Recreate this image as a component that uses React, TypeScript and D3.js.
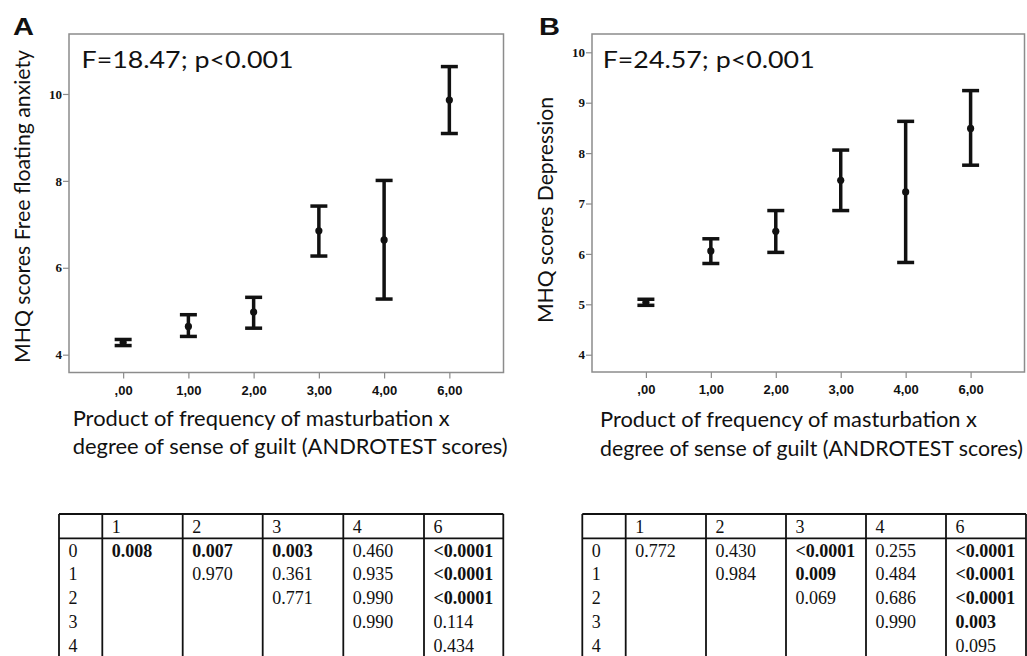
import React, { useRef, useEffect } from "react"
import * as d3 from "d3"

const chart_width = 1027
const chart_height = 656

// x categories (ANDROTEST product scores)
const categories = [",00", "1,00", "2,00", "3,00", "4,00", "6,00"]

// panel A: MHQ free floating anxiety, mean and 95% CI
const anxietyMean = [4.28, 4.65, 4.98, 6.85, 6.64, 9.86]
const anxietyLow = [4.21, 4.42, 4.61, 6.27, 5.28, 9.09]
const anxietyHigh = [4.35, 4.92, 5.32, 7.42, 8.01, 10.63]
const anxietyTicks = [4, 6, 8, 10]

// panel B: MHQ depression, mean and 95% CI
const depressionMean = [5.04, 6.06, 6.45, 7.46, 7.23, 8.49]
const depressionLow = [4.98, 5.81, 6.03, 6.86, 5.83, 7.76]
const depressionHigh = [5.1, 6.3, 6.86, 8.06, 8.63, 9.24]
const depressionTicks = [4, 5, 6, 7, 8, 9, 10]

// post hoc p values tables
const tableHeader = ["", "1", "2", "3", "4", "6"]
const rowLabels = ["0", "1", "2", "3", "4"]
const anxietyPvalues = [
  ["0.008", "0.007", "0.003", "0.460", "<0.0001"],
  ["", "0.970", "0.361", "0.935", "<0.0001"],
  ["", "", "0.771", "0.990", "<0.0001"],
  ["", "", "", "0.990", "0.114"],
  ["", "", "", "", "0.434"],
]
const depressionPvalues = [
  ["0.772", "0.430", "<0.0001", "0.255", "<0.0001"],
  ["", "0.984", "0.009", "0.484", "<0.0001"],
  ["", "", "0.069", "0.686", "<0.0001"],
  ["", "", "", "0.990", "0.003"],
  ["", "", "", "", "0.095"],
]

const sans = "Lato, 'Open Sans', sans-serif"
const serif = "'Liberation Serif', 'Times New Roman', serif"
const frameColor = "#8c8c8c"

const isSignificant = v => v.startsWith("<") || (v !== "" && parseFloat(v) < 0.05)

const drawPanel = (svg, p) => {
  const g = svg.append("g")

  const x = d3.scalePoint().domain(categories).range([p.x0, p.x1]).padding(0.83)
  const y = d3.scaleLinear().domain(p.domain).range([p.y1, p.y0])

  // y axis
  const yAxis = d3
    .axisLeft(y)
    .tickValues(p.ticks)
    .tickFormat(d3.format("d"))
    .tickSize(6)
    .tickPadding(1)
  const ya = g.append("g").attr("transform", "translate(" + p.x0 + ",0)").call(yAxis)
  ya.select(".domain").remove()
  ya.selectAll("line").attr("stroke", frameColor).attr("stroke-width", 1.2)
  ya.selectAll("text")
    .attr("font-family", serif)
    .attr("font-weight", "bold")
    .attr("font-size", 13)
    .attr("fill", "#111")

  // x axis
  const xAxis = d3.axisBottom(x).tickSize(6).tickPadding(7)
  const xa = g.append("g").attr("transform", "translate(0," + p.y1 + ")").call(xAxis)
  xa.select(".domain").remove()
  xa.selectAll("line").attr("stroke", frameColor).attr("stroke-width", 1.2)
  xa.selectAll("text")
    .attr("font-family", "'Liberation Sans', Arial, sans-serif")
    .attr("font-weight", "bold")
    .attr("font-size", 13)
    .attr("fill", "#111")

  // frame
  g.append("rect")
    .attr("x", p.x0)
    .attr("y", p.y0)
    .attr("width", p.x1 - p.x0)
    .attr("height", p.y1 - p.y0)
    .attr("fill", "none")
    .attr("stroke", frameColor)
    .attr("stroke-width", 1.5)

  // error bars
  const bars = g
    .selectAll(".bar")
    .data(categories.map((c, i) => ({ c, m: p.mean[i], lo: p.low[i], hi: p.high[i] })))
    .enter()
    .append("g")
    .attr("class", "bar")
  bars
    .append("line")
    .attr("x1", d => x(d.c))
    .attr("x2", d => x(d.c))
    .attr("y1", d => y(d.lo))
    .attr("y2", d => y(d.hi))
    .attr("stroke", "#111")
    .attr("stroke-width", 3.5)
  ;["lo", "hi"].forEach(k => {
    bars
      .append("line")
      .attr("x1", d => x(d.c) - 8.5)
      .attr("x2", d => x(d.c) + 8.5)
      .attr("y1", d => y(d[k]))
      .attr("y2", d => y(d[k]))
      .attr("stroke", "#111")
      .attr("stroke-width", 3.5)
  })
  bars
    .append("circle")
    .attr("cx", d => x(d.c))
    .attr("cy", d => y(d.m))
    .attr("r", 3.6)
    .attr("fill", "#111")

  // statistic
  g.append("text")
    .attr("x", p.x0 + (p.statDx || 12.5))
    .attr("y", 68)
    .attr("font-family", sans)
    .attr("font-size", 23)
    .attr("textLength", 212)
    .attr("lengthAdjust", "spacingAndGlyphs")
    .attr("fill", "#111")
    .text(p.stat)

  // panel letter
  g.append("text")
    .attr("x", p.letterX)
    .attr("y", 35)
    .attr("font-family", "'Liberation Sans', Arial, sans-serif")
    .attr("font-weight", "bold")
    .attr("font-size", 23)
    .attr("textLength", 21)
    .attr("lengthAdjust", "spacingAndGlyphs")
    .attr("fill", "#111")
    .text(p.letter)

  // y title
  g.append("text")
    .attr("transform", "translate(" + p.yTitleX + "," + p.yTitleY + ") rotate(-90)")
    .attr("text-anchor", "middle")
    .attr("font-family", sans)
    .attr("font-size", 21)
    .attr("textLength", p.yTitleLen)
    .attr("lengthAdjust", "spacingAndGlyphs")
    .attr("fill", "#111")
    .text(p.yTitle)

  // x title, two lines
  const xt = [
    "Product of frequency of masturbation x",
    "degree of sense of guilt (ANDROTEST scores)",
  ]
  xt.forEach((t, i) => {
    g.append("text")
      .attr("x", p.xTitleX)
      .attr("y", p.xTitleY + i * 28.3)
      .attr("font-family", sans)
      .attr("font-size", 21)
      .attr("textLength", i === 0 ? 377 : p.xLine2Len)
      .attr("lengthAdjust", "spacingAndGlyphs")
      .attr("fill", "#111")
      .text(t)
  })
}

const drawTable = (svg, left, widths, values) => {
  const g = svg.append("g")
  const edges = [left]
  widths.forEach(w => edges.push(edges[edges.length - 1] + w))
  const top = 514
  const headBottom = 538.3
  const bottom = chart_height + 2

  g.append("line")
    .attr("x1", edges[0])
    .attr("x2", edges[edges.length - 1])
    .attr("y1", top)
    .attr("y2", top)
    .attr("stroke", "#111")
    .attr("stroke-width", 1.8)
  g.append("line")
    .attr("x1", edges[0])
    .attr("x2", edges[edges.length - 1])
    .attr("y1", headBottom)
    .attr("y2", headBottom)
    .attr("stroke", "#111")
    .attr("stroke-width", 1.8)
  edges.forEach(e => {
    g.append("line")
      .attr("x1", e)
      .attr("x2", e)
      .attr("y1", top)
      .attr("y2", bottom)
      .attr("stroke", "#111")
      .attr("stroke-width", 1.8)
  })

  const cell = (col, y, t, bold) => {
    g.append("text")
      .attr("x", edges[col] + 9.5)
      .attr("y", y)
      .attr("font-family", serif)
      .attr("font-size", 18)
      .attr("font-weight", bold ? "bold" : "normal")
      .attr("fill", "#111")
      .text(t)
  }
  tableHeader.forEach((h, i) => cell(i, 533.3, h, false))
  rowLabels.forEach((r, ri) => {
    const yy = 556.7 + ri * 23.7
    cell(0, yy, r, false)
    values[ri].forEach((v, ci) => {
      if (v !== "") cell(ci + 1, yy, v, isSignificant(v))
    })
  })
}

const App = () => {
  const d3Container = useRef(null)

  useEffect(() => {
    if (!d3Container.current) return
    const svg = d3.select(d3Container.current)
    svg.selectAll("*").remove()

    svg.append("rect").attr("width", chart_width).attr("height", chart_height).attr("fill", "#fff")

    drawPanel(svg, {
      x0: 69,
      x1: 503.5,
      y0: 34,
      y1: 372.5,
      domain: [3.59, 11.38],
      ticks: anxietyTicks,
      mean: anxietyMean,
      low: anxietyLow,
      high: anxietyHigh,
      stat: "F=18.47; p<0.001",
      letter: "A",
      letterX: 13,
      yTitle: "MHQ scores Free floating anxiety",
      yTitleX: 29.5,
      yTitleY: 206.5,
      yTitleLen: 313,
      xTitleX: 72.7,
      xTitleY: 426,
      xLine2Len: 435,
    })

    drawPanel(svg, {
      x0: 592,
      x1: 1024.5,
      y0: 34,
      y1: 372,
      domain: [3.657, 10.363],
      ticks: depressionTicks,
      mean: depressionMean,
      low: depressionLow,
      high: depressionHigh,
      stat: "F=24.57; p<0.001",
      statDx: 10.7,
      letter: "B",
      letterX: 539,
      yTitle: "MHQ scores Depression",
      yTitleX: 553,
      yTitleY: 210,
      yTitleLen: 226,
      xTitleX: 600,
      xTitleY: 427.3,
      xLine2Len: 423,
    })

    drawTable(svg, 59, [43.3, 80.4, 80, 80.6, 80.7, 79.3], anxietyPvalues)
    drawTable(svg, 582.3, [43.4, 80.3, 80, 80, 80, 80], depressionPvalues)
  }, [])

  return (
    <div style={{ position: "absolute", left: 0, top: 0 }}>
      <svg ref={d3Container} width={chart_width} height={chart_height} style={{ display: "block" }} />
    </div>
  )
}

export default App
